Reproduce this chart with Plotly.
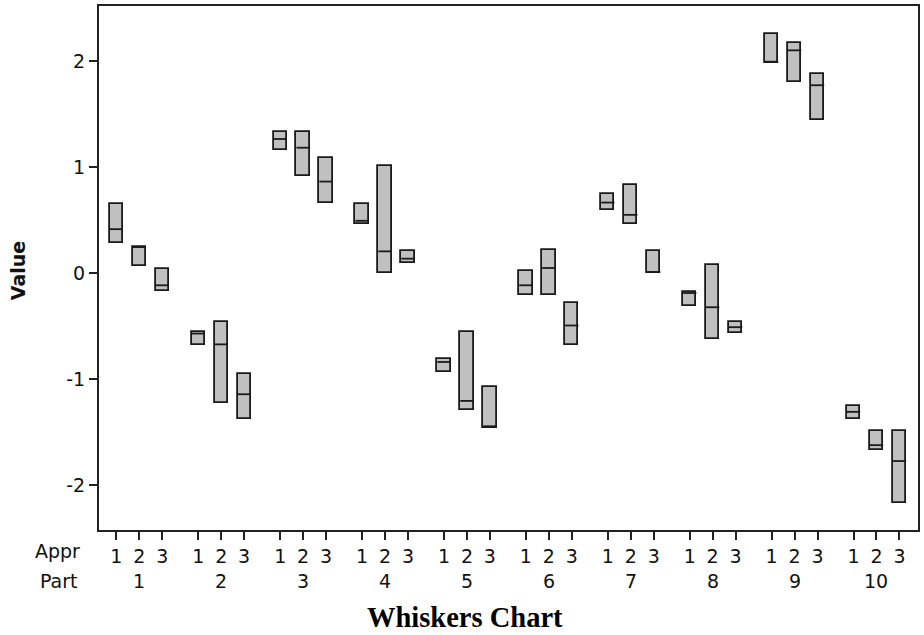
import plotly.graph_objects as go

parts = [1, 2, 3, 4, 5, 6, 7, 8, 9, 10]
apprs = [1, 2, 3]

# per part, per appraiser: max, min, median
max_vals = [
    [0.651, 0.247, 0.040],
    [-0.557, -0.461, -0.952],
    [1.328, 1.328, 1.084],
    [0.651, 1.015, 0.207],
    [-0.805, -0.555, -1.071],
    [0.025, 0.223, -0.279],
    [0.745, 0.834, 0.207],
    [-0.179, 0.075, -0.458],
    [2.256, 2.171, 1.877],
    [-1.250, -1.485, -1.485],
]
min_vals = [
    [0.285, 0.066, -0.163],
    [-0.677, -1.222, -1.372],
    [1.164, 0.920, 0.661],
    [0.463, 0.003, 0.097],
    [-0.928, -1.290, -1.454],
    [-0.200, -0.200, -0.674],
    [0.599, 0.463, 0.003],
    [-0.310, -0.623, -0.561],
    [1.987, 1.805, 1.445],
    [-1.369, -1.670, -2.164],
]
med_vals = [
    [0.416, 0.247, -0.113],
    [-0.568, -0.670, -1.140],
    [1.266, 1.184, 0.865],
    [0.495, 0.207, 0.138],
    [-0.836, -1.203, -1.442],
    [-0.113, 0.050, -0.492],
    [0.667, 0.551, 0.012],
    [-0.186, -0.320, -0.508],
    [1.995, 2.102, 1.773],
    [-1.306, -1.620, -1.770],
]

GROUP_STEP = 3.57
BOX_W = 0.58

xs, bases, heights, tickvals, ticktext = [], [], [], [], []
mx, my = [], []
for gi, p in enumerate(parts):
    for ai, a in enumerate(apprs):
        x = gi * GROUP_STEP + ai
        xs.append(x)
        lo, hi, md = min_vals[gi][ai], max_vals[gi][ai], med_vals[gi][ai]
        bases.append(lo)
        heights.append(hi - lo)
        tickvals.append(x)
        ticktext.append(str(a))
        mx += [x - BOX_W / 2, x + BOX_W / 2, None]
        my += [md, md, None]

fig = go.Figure()
fig.add_trace(go.Bar(
    x=xs, y=heights, base=bases, width=BOX_W,
    marker=dict(color="#c0c0c0", line=dict(color="#1a1a1a", width=1.8)),
    hoverinfo="skip", showlegend=False,
))
fig.add_trace(go.Scatter(
    x=mx, y=my, mode="lines", line=dict(color="#1a1a1a", width=1.8),
    hoverinfo="skip", showlegend=False,
))

FONT = "DejaVu Sans"
L, R, T, B = 99, 4, 4, 105
W, H = 924, 635
pw, ph = W - L - R, H - T - B

def px_x(px):
    return (px - L) / pw

def px_y(py):
    return (H - B - py) / ph

annotations = []
for gi, p in enumerate(parts):
    annotations.append(dict(
        x=gi * GROUP_STEP + 1, y=px_y(581), xref="x", yref="paper",
        text=str(p), showarrow=False, font=dict(family=FONT, size=19, color="#111"),
        xanchor="center", yanchor="middle",
    ))
annotations += [
    dict(x=px_x(57), y=px_y(551), xref="paper", yref="paper", text="Appr",
         showarrow=False, font=dict(family=FONT, size=19, color="#111"),
         xanchor="center", yanchor="middle"),
    dict(x=px_x(59), y=px_y(581), xref="paper", yref="paper", text="Part",
         showarrow=False, font=dict(family=FONT, size=19, color="#111"),
         xanchor="center", yanchor="middle"),
    dict(x=px_x(18), y=px_y(270), xref="paper", yref="paper", text="<b>Value</b>",
         textangle=-90, showarrow=False, font=dict(family=FONT, size=19, color="#111"),
         xanchor="center", yanchor="middle"),
    dict(x=px_x(466), y=px_y(618), xref="paper", yref="paper", text="<b>Whiskers Chart</b>",
         showarrow=False, font=dict(family="Liberation Serif", size=28.5, color="#000"),
         xanchor="center", yanchor="middle"),
]

x0 = -17.4 / 23
x1 = x0 + pw / 23

fig.update_layout(
    width=W, height=H,
    margin=dict(l=L, r=R, t=T, b=B),
    paper_bgcolor="white", plot_bgcolor="white",
    bargap=0,
    annotations=annotations,
    xaxis=dict(
        range=[x0, x1], tickmode="array", tickvals=tickvals, ticktext=ticktext,
        showgrid=False, zeroline=False, showline=True, mirror=True,
        linecolor="#222", linewidth=2, ticks="outside", ticklen=8, tickwidth=1.5,
        tickcolor="#222", tickfont=dict(family=FONT, size=19, color="#111"),
    ),
    yaxis=dict(
        range=[-2.42, 2.52], tickmode="array", tickvals=[-2, -1, 0, 1, 2],
        ticktext=["-2", "-1", "0", "1", "2"],
        showgrid=False, zeroline=False, showline=True, mirror=True,
        linecolor="#222", linewidth=2, ticks="outside", ticklen=8, tickwidth=1.5,
        tickcolor="#222", tickfont=dict(family=FONT, size=19, color="#111"),
    ),
)

fig.write_html("out.html")
